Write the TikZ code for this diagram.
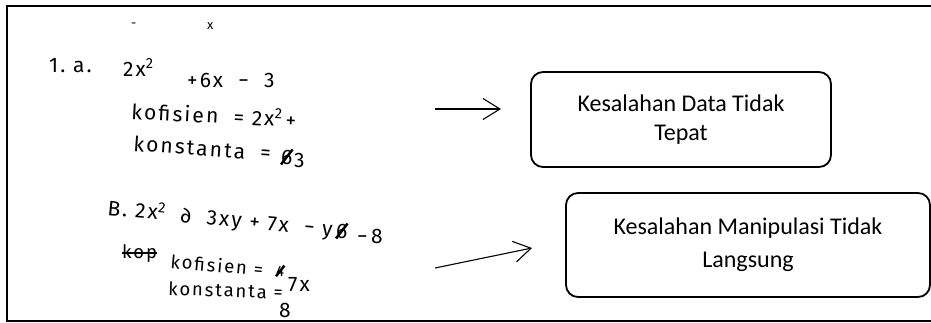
\documentclass[tikz,border=0pt]{standalone}
\usepackage{fontspec}
\newfontfamily\boxfont{Carlito}
\newfontfamily\tanganfont{Fira Sans}[LetterSpace=10]
\usetikzlibrary{arrows.meta}
\tikzset{
  kotak/.style={draw,line width=1.8pt,rounded corners=12pt,align=center,inner sep=0pt,
    font=\boxfont\fontsize{24}{29}\selectfont},
  tulis/.style={anchor=base west,inner sep=0pt,font=\tanganfont\fontsize{21}{21}\selectfont},
  kecil/.style={font=\tanganfont\fontsize{18.5}{18.5}\selectfont},
  coret/.style={line width=2.5pt},
  panah/.style={line width=1.1pt,-{Straight Barb[length=17pt,width=21pt,line width=1.1pt]}}
}
\begin{document}
\begin{tikzpicture}[x=1pt,y=-1pt]
  \useasboundingbox (0,0) rectangle (931,322);
  \draw[line width=1.6pt] (931,6) -- (7,6) -- (7,321) -- (931,321);
  % bagian tulisan tangan
  \node[tulis,font=\tanganfont\fontsize{13}{13}\selectfont] (atas1) at (131,27) {-};
  \node[tulis,font=\tanganfont\fontsize{13}{13}\selectfont] (atas2) at (207,29) {x};
  \node[tulis] (no1) at (49,72) {1.\ a.};
  \node[tulis] (eq1) at (123,76) {2x\textsuperscript{2}};
  \node[tulis] (eq1b) at (187,87) {+6x \ − \ 3};
  \node[tulis,rotate=-3] (kof1) at (131,119) {kofisien \ = 2x\textsuperscript{2}\,+};
  \node[tulis,rotate=-4] (kon1) at (133,151) {konstanta \ =};
  \node[tulis] (coret1) at (281,164) {6};
  \draw[coret] (coret1.south west) -- (coret1.north east);
  \node[tulis] (kon1b) at (294,167) {3};
  \node[tulis,rotate=-5.5] (eq2) at (107,215) {B. 2x\textsuperscript{2}\ \ ∂\ \ 3xy +\ 7x\ \ −\ y};
  \node[tulis] (coret2) at (336,238) {6};
  \draw[coret] (coret2.south west) -- (coret2.north east);
  \node[tulis] (eq2b) at (357,243) {−\,8};
  \node[tulis,kecil] (kop) at (122,258) {kop};
  \draw[coret] (kop.west) -- (kop.east);
  \node[tulis,kecil,rotate=-5] (kof2) at (170,268) {kofisien =};
  \node[tulis,font=\tanganfont\fontsize{15}{15}\selectfont] (coret3) at (276,276) {4};
  \draw[coret] (coret3.south west) -- (coret3.north east);
  \node[tulis] (kof2b) at (288,291) {7x};
  \node[tulis,kecil,rotate=-2] (kon2) at (168,295) {konstanta =};
  \node[tulis] (kon2b) at (279,317) {8};
  % kotak kesalahan
  \node[kotak,minimum width=300pt,minimum height=95pt] (salah1) at (681,119.5)
    {Kesalahan Data Tidak\\Tepat};
  \node[kotak,minimum width=364pt,minimum height=104pt,
    font=\boxfont\fontsize{24}{33}\selectfont] (salah2) at (748,245)
    {Kesalahan Manipulasi Tidak\\Langsung};
  % panah
  \coordinate (p1a) at (435,109);
  \coordinate (p1b) at (501,109);
  \coordinate (p2a) at (435,268);
  \coordinate (p2b) at (532,248);
  \draw[panah] (p1a) -- (p1b);
  \draw[panah] (p2a) -- (p2b);
\end{tikzpicture}
\end{document}
